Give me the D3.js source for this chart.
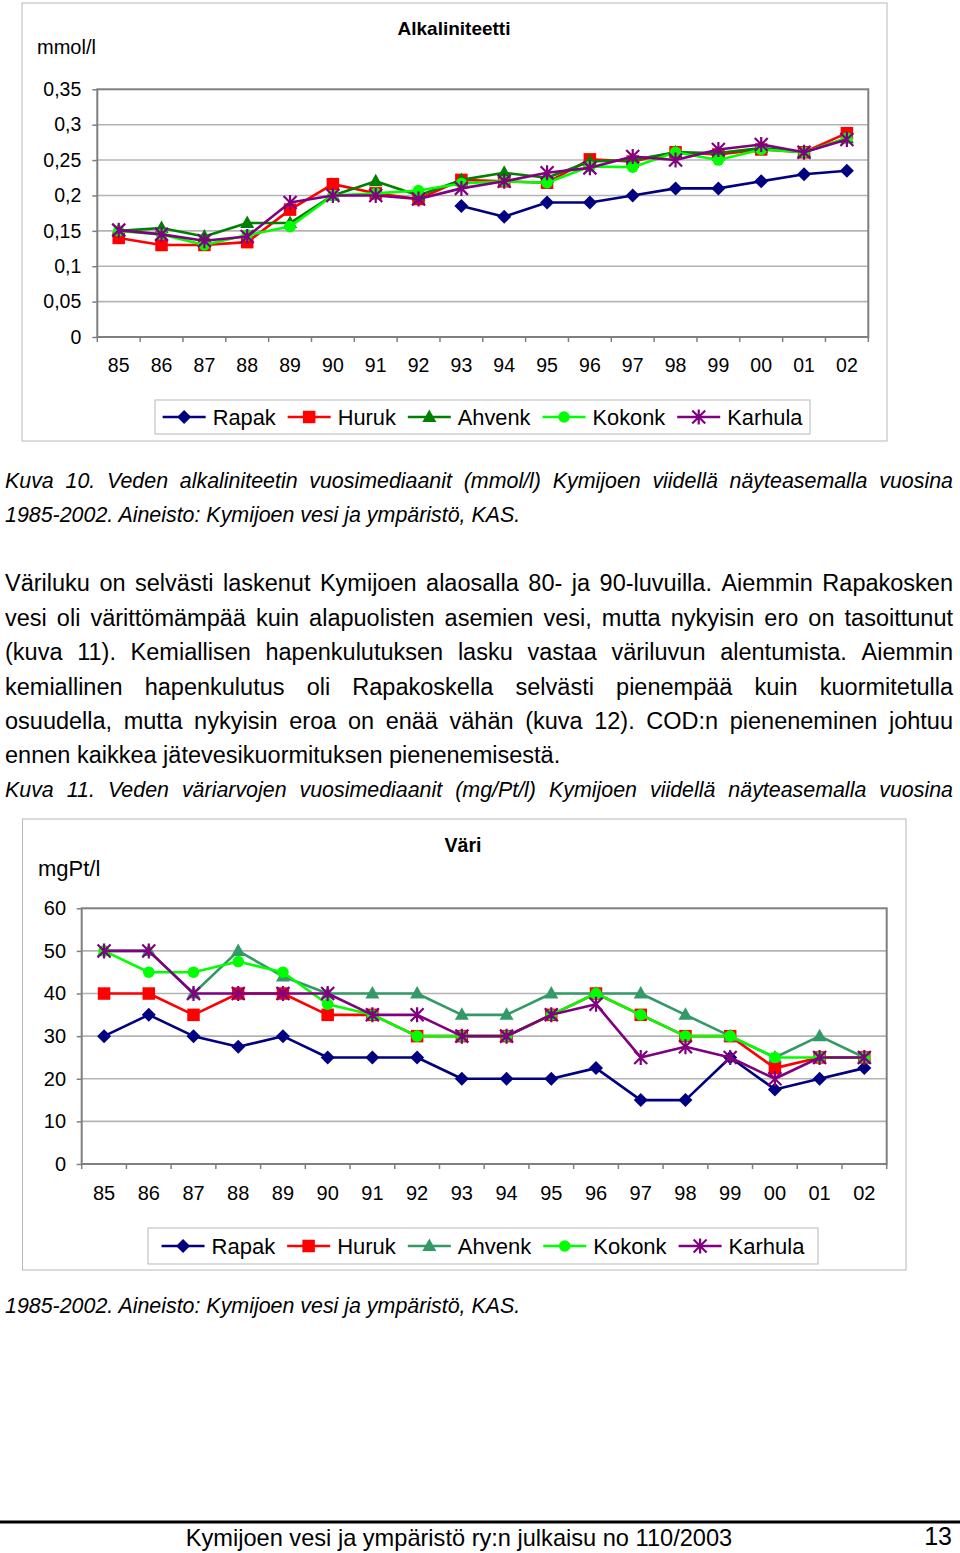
<!DOCTYPE html>
<html><head><meta charset="utf-8">
<script src="https://cdn.jsdelivr.net/npm/d3@7"></script>
<style>
body{margin:0;background:#fff}
svg{display:block}
text{font-family:"Liberation Sans",Arial,Helvetica,sans-serif;fill:#000}
</style>
</head><body>
<svg id="page" width="960" height="1553"></svg>
<script>
// ---------- DATA ----------
const years = ["85","86","87","88","89","90","91","92","93","94","95","96","97","98","99","00","01","02"];
const seriesNames = ["Rapak","Huruk","Ahvenk","Kokonk","Karhula"];

// Alkaliniteetti (mmol/l)
const alkTicks = [0,0.05,0.1,0.15,0.2,0.25,0.3,0.35];
const alkRapak   = [null,null,null,null,null,null,null,null,0.185,0.17,0.19,0.19,0.2,0.21,0.21,0.22,0.23,0.235];
const alkHuruk   = [0.14,0.13,0.13,0.134,0.18,0.216,0.203,0.195,0.222,0.22,0.218,0.251,0.248,0.261,0.258,0.265,0.261,0.288];
const alkAhvenk  = [0.15,0.154,0.142,0.161,0.161,0.2,0.22,0.2,0.222,0.232,0.225,0.248,0.25,0.261,0.26,0.267,0.261,0.281];
const alkKokonk  = [0.15,0.145,0.13,0.144,0.156,0.2,0.203,0.207,0.217,0.22,0.218,0.241,0.24,0.261,0.25,0.265,0.261,0.281];
const alkKarhula = [0.151,0.145,0.136,0.142,0.19,0.2,0.2,0.195,0.21,0.22,0.232,0.239,0.255,0.25,0.265,0.272,0.261,0.279];

// Väri (mgPt/l)
const colTicks = [0,10,20,30,40,50,60];
const colRapak   = [30,35,30,27.5,30,25,25,25,20,20,20,22.5,15,15,25,17.5,20,22.5];
const colHuruk   = [40,40,35,40,40,35,35,30,30,30,35,40,35,30,30,22.5,25,25];
const colAhvenk  = [50,50,40,50,44,40,40,40,35,35,40,40,40,35,30,25,30,25];
const colKokonk  = [50,45,45,47.5,45,37.5,35,30,30,30,35,40,35,30,30,25,25,25];
const colKarhula = [50,50,40,40,40,40,35,35,30,30,35,37.5,25,27.5,25,20,25,25];

// ---------- TEXT ----------
const caption10 = ["Kuva 10. Veden alkaliniteetin vuosimediaanit (mmol/l) Kymijoen viidellä näyteasemalla vuosina",
                   "1985-2002. Aineisto: Kymijoen vesi ja ympäristö, KAS."];
const bodyLines = ["Väriluku on selvästi laskenut Kymijoen alaosalla 80- ja 90-luvuilla. Aiemmin Rapakosken",
  "vesi oli värittömämpää kuin alapuolisten asemien vesi, mutta nykyisin ero on tasoittunut",
  "(kuva 11). Kemiallisen hapenkulutuksen lasku vastaa väriluvun alentumista. Aiemmin",
  "kemiallinen hapenkulutus oli Rapakoskella selvästi pienempää kuin kuormitetulla",
  "osuudella, mutta nykyisin eroa on enää vähän (kuva 12). COD:n pieneneminen johtuu",
  "ennen kaikkea jätevesikuormituksen pienenemisestä."];
const caption11 = ["Kuva 11. Veden väriarvojen vuosimediaanit (mg/Pt/l) Kymijoen viidellä näyteasemalla vuosina",
                   "1985-2002. Aineisto: Kymijoen vesi ja ympäristö, KAS."];
const footerText = "Kymijoen vesi ja ympäristö ry:n julkaisu no 110/2003";
const pageNo = "13";

// ---------- HELPERS ----------
const svg = d3.select("#page");

function textLine(str, x0, x1, y, size, italic, justify){
  const g = svg.append("g");
  if(!justify){
    g.append("text").attr("x",x0).attr("y",y).style("font-size",size+"px")
      .style("font-style",italic?"italic":"normal").text(str);
    return;
  }
  const words = str.split(" ");
  const nodes = words.map(w => g.append("text").attr("y",y).style("font-size",size+"px")
      .style("font-style",italic?"italic":"normal").text(w));
  const widths = nodes.map(n => n.node().getComputedTextLength());
  const total = d3.sum(widths);
  const gap = (x1 - x0 - total)/(words.length-1);
  let x = x0;
  nodes.forEach((n,i)=>{ n.attr("x",x); x += widths[i] + gap; });
}

function drawMarker(g, type, color, cx, cy){
  if(type==="diamond"){
    const r=7;
    g.append("path").attr("d",`M${cx},${cy-r}L${cx+r},${cy}L${cx},${cy+r}L${cx-r},${cy}Z`).attr("fill",color);
  } else if(type==="square"){
    const s=12.5;
    g.append("rect").attr("x",cx-s/2).attr("y",cy-s/2).attr("width",s).attr("height",s).attr("fill",color);
  } else if(type==="triangle"){
    g.append("path").attr("d",`M${cx},${cy-7.5}L${cx+7},${cy+5}L${cx-7},${cy+5}Z`).attr("fill",color);
  } else if(type==="circle"){
    g.append("circle").attr("cx",cx).attr("cy",cy).attr("r",5.8).attr("fill",color);
  } else if(type==="star"){
    const r=6.5;
    g.append("path").attr("d",`M${cx-r},${cy-r}L${cx+r},${cy+r}M${cx-r},${cy+r}L${cx+r},${cy-r}M${cx},${cy-r-1}L${cx},${cy+r+1}`)
      .attr("stroke",color).attr("stroke-width",2.2).attr("fill","none");
  }
}

const markerTypes = ["diamond","square","triangle","circle","star"];

function drawChart(cfg){
  const g = svg.append("g");
  // outer frame
  g.append("rect").attr("x",cfg.frame[0]).attr("y",cfg.frame[1])
    .attr("width",cfg.frame[2]-cfg.frame[0]).attr("height",cfg.frame[3]-cfg.frame[1])
    .attr("fill","#fff").attr("stroke","#b8b8b8").attr("stroke-width",1);

  const [L,T,R,B] = cfg.plot;
  const x = d3.scaleBand().domain(years).range([L,R]).padding(0);
  const y = d3.scaleLinear().domain([0, cfg.ticks[cfg.ticks.length-1]]).range([B,T]);
  const cx = d => x(d) + x.bandwidth()/2;

  // gridlines
  g.append("g").selectAll("line").data(cfg.ticks.slice(1,-1)).join("line")
    .attr("x1",L).attr("x2",R).attr("y1",d=>y(d)).attr("y2",d=>y(d))
    .attr("stroke","#b4b4b4").attr("stroke-width",1.6);

  // plot border
  g.append("rect").attr("x",L).attr("y",T).attr("width",R-L).attr("height",B-T)
    .attr("fill","none").attr("stroke","#7f7f7f").attr("stroke-width",2);

  // y axis
  const ya = g.append("g").attr("transform",`translate(${L},0)`)
    .call(d3.axisLeft(y).tickValues(cfg.ticks).tickSize(5).tickPadding(cfg.yPad)
      .tickFormat(d => String(d).replace(".",",")));
  ya.select(".domain").remove();
  ya.selectAll("line").attr("stroke","#7f7f7f").attr("stroke-width",1.5);
  ya.selectAll("text").style("font-size",cfg.tickFont+"px").style("font-family",'"Liberation Sans",Arial,sans-serif').attr("fill","#000");

  // x axis labels
  const xa = g.append("g").attr("transform",`translate(0,${B})`)
    .call(d3.axisBottom(x).tickSize(0).tickPadding(cfg.xPad));
  xa.select(".domain").remove();
  xa.selectAll("text").style("font-size",cfg.tickFont+"px").style("font-family",'"Liberation Sans",Arial,sans-serif').attr("fill","#000");
  // x tick marks at category boundaries
  const bounds = years.map(d=>x(d)).concat([x(years[years.length-1])+x.step()]);
  g.append("g").selectAll("line").data(bounds).join("line")
    .attr("x1",d=>d).attr("x2",d=>d).attr("y1",B).attr("y2",B+5)
    .attr("stroke","#7f7f7f").attr("stroke-width",1.5);

  // series
  cfg.series.forEach((vals,si)=>{
    const col = cfg.colors[si];
    const sg = g.append("g");
    const line = d3.line().defined(d=>d.v!=null).x(d=>cx(d.k)).y(d=>y(d.v));
    const pts = years.map((k,i)=>({k, v: vals[i]}));
    sg.append("path").attr("d",line(pts)).attr("fill","none").attr("stroke",col)
      .attr("stroke-width",2.6).attr("stroke-linejoin","round");
    pts.filter(d=>d.v!=null).forEach(d=>drawMarker(sg, markerTypes[si], col, cx(d.k), y(d.v)));
  });

  // title and unit
  g.append("text").attr("x",cfg.titlePos[0]).attr("y",cfg.titlePos[1]).attr("text-anchor","middle")
    .style("font-size",cfg.titleFont+"px").style("font-weight","bold").text(cfg.title);
  g.append("text").attr("x",cfg.unitPos[0]).attr("y",cfg.unitPos[1])
    .style("font-size",cfg.unitFont+"px").text(cfg.unit);

  // legend
  const [lx0,ly0,lx1,ly1] = cfg.legend;
  g.append("rect").attr("x",lx0).attr("y",ly0).attr("width",lx1-lx0).attr("height",ly1-ly0)
    .attr("fill","#fff").attr("stroke","#b8b8b8").attr("stroke-width",1);
  const lg = g.append("g");
  const ly = (ly0+ly1)/2;
  const sample = 43, gapT = 7, gapI = 12;
  const items = seriesNames.map((n,i)=>{
    const t = lg.append("text").attr("y",ly).attr("dy","0.36em").style("font-size",cfg.legendFont+"px").text(n);
    return {t, w: t.node().getComputedTextLength(), i};
  });
  const totalW = d3.sum(items, it=>sample+gapT+it.w) + gapI*(items.length-1);
  let xx = (lx0+lx1)/2 - totalW/2;
  items.forEach(it=>{
    const col = cfg.colors[it.i];
    lg.append("line").attr("x1",xx).attr("x2",xx+sample).attr("y1",ly).attr("y2",ly)
      .attr("stroke",col).attr("stroke-width",2.6);
    drawMarker(lg, markerTypes[it.i], col, xx+sample/2, ly);
    it.t.attr("x", xx+sample+gapT);
    it.t.raise();
    xx += sample+gapT+it.w+gapI;
  });
}

// ---------- CHART 1 ----------
drawChart({
  frame:[22,3,887,441], plot:[97.3,89.3,868.3,337],
  ticks: alkTicks, yPad: 11, xPad: 21, tickFont: 19.5,
  series:[alkRapak,alkHuruk,alkAhvenk,alkKokonk,alkKarhula],
  colors:["#000080","#ff0000","#008000","#00ff00","#800080"],
  title:"Alkaliniteetti", titlePos:[454,35], titleFont:19,
  unit:"mmol/l", unitPos:[37,54], unitFont:20,
  legend:[155,400,810,434], legendFont:21.8
});

// ---------- TEXT BLOCK ----------
textLine(caption10[0], 5, 953, 488, 21.4, true, true);
textLine(caption10[1], 5, 953, 522, 21.4, true, false);
const bodyBase = [591, 625.5, 660, 694.5, 729, 763];
bodyLines.forEach((l,i)=> textLine(l, 5, 953, bodyBase[i], 23.5, false, i<bodyLines.length-1));
textLine(caption11[0], 5, 953, 797, 21.4, true, true);

// ---------- CHART 2 ----------
drawChart({
  frame:[22.5,819,906,1270], plot:[81.7,908.3,886.7,1164],
  ticks: colTicks, yPad: 10.7, xPad: 22, tickFont: 20,
  series:[colRapak,colHuruk,colAhvenk,colKokonk,colKarhula],
  colors:["#000080","#ff0000","#339966","#00ff00","#800080"],
  title:"Väri", titlePos:[463,852], titleFont:19.6,
  unit:"mgPt/l", unitPos:[38,876], unitFont:22,
  legend:[148,1228,818,1264], legendFont:22
});

textLine(caption11[1], 5, 953, 1313, 21.4, true, false);

// ---------- FOOTER ----------
svg.append("line").attr("x1",0).attr("x2",960).attr("y1",1522).attr("y2",1522)
  .attr("stroke","#000").attr("stroke-width",3);
svg.append("text").attr("x",459).attr("y",1546).attr("text-anchor","middle")
  .style("font-size","23.6px").text(footerText);
svg.append("text").attr("x",952).attr("y",1545).attr("text-anchor","end")
  .style("font-size","25px").text(pageNo);
</script>
</body></html>
